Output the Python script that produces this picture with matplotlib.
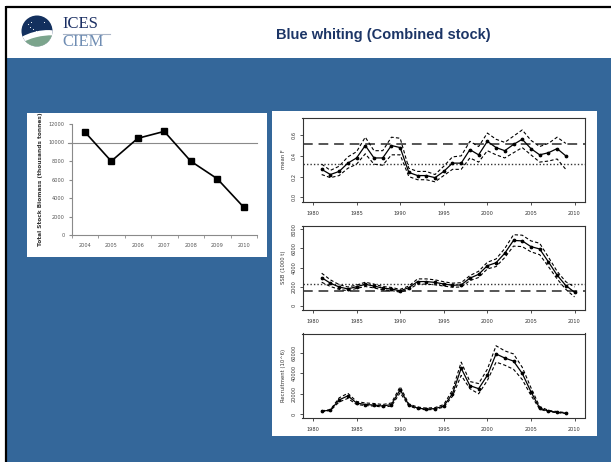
import numpy as np
import matplotlib.pyplot as plt
from matplotlib import patches

W, H = 611, 462

# total stock biomass (thousand tonnes) by assessment year
tsb_years = ['2004', '2005', '2006', '2007', '2008', '2009', '2010']
tsb = [11150, 7980, 10450, 11200, 7980, 6080, 3000]
tsb_ref = 10000
tsb_ticks = [0, 2000, 4000, 6000, 8000, 10000, 12000]

# stock assessment summary, 1981 onwards
f_years = np.arange(1981, 2010)
f_mid = [0.27, 0.22, 0.25, 0.33, 0.38, 0.50, 0.38, 0.38, 0.50, 0.48,
         0.24, 0.21, 0.21, 0.19, 0.25, 0.33, 0.33, 0.46, 0.41, 0.54,
         0.48, 0.45, 0.51, 0.56, 0.47, 0.41, 0.43, 0.47, 0.40]
f_hi = [0.32, 0.26, 0.30, 0.39, 0.44, 0.58, 0.45, 0.45, 0.58, 0.57,
        0.28, 0.25, 0.25, 0.22, 0.30, 0.39, 0.40, 0.54, 0.49, 0.62,
        0.56, 0.53, 0.59, 0.65, 0.55, 0.49, 0.52, 0.58, 0.52]
f_lo = [0.22, 0.19, 0.21, 0.28, 0.32, 0.42, 0.32, 0.31, 0.41, 0.41,
        0.20, 0.17, 0.17, 0.15, 0.21, 0.27, 0.27, 0.38, 0.34, 0.45,
        0.41, 0.38, 0.43, 0.48, 0.41, 0.34, 0.35, 0.37, 0.27]
f_pa, f_lim = 0.32, 0.51

ssb_years = np.arange(1981, 2011)
ssb_mid = [2930, 2350, 1950, 1750, 1980, 2230, 2050, 1830, 1740, 1550,
           1880, 2520, 2520, 2430, 2270, 2130, 2170, 2880, 3280, 4190,
           4500, 5500, 6850, 6800, 6200, 5950, 4600, 3200, 2100, 1400]
ssb_hi = [3400, 2700, 2200, 1950, 2150, 2450, 2250, 2000, 1900, 1700,
          2050, 2800, 2800, 2700, 2500, 2350, 2400, 3150, 3600, 4550,
          4900, 6000, 7450, 7400, 6800, 6550, 5100, 3600, 2500, 1950]
ssb_lo = [2450, 2000, 1700, 1550, 1800, 2000, 1850, 1650, 1580, 1400,
          1700, 2250, 2250, 2180, 2050, 1920, 1950, 2620, 2950, 3850,
          4100, 5050, 6250, 6200, 5650, 5350, 4100, 2800, 1700, 900]
b_pa, b_lim = 2250, 1500

rec_years = np.arange(1981, 2010)
rec_mid = [3000, 4000, 14000, 18000, 11000, 9500, 9000, 8000, 9500, 24000,
           9000, 6000, 5000, 5500, 8000, 20000, 45000, 28000, 25000, 38000,
           59000, 55000, 52000, 40000, 22000, 6000, 3000, 2000, 1000]
rec_hi = [3300, 4500, 16000, 20500, 12500, 11000, 10500, 9500, 11000, 27000,
          10000, 7000, 6000, 6500, 9500, 23500, 51000, 32000, 30000, 44000,
          67000, 62000, 59000, 46000, 26000, 7500, 3800, 2600, 1500]
rec_lo = [2700, 3500, 12000, 15500, 9500, 8500, 8000, 7000, 8000, 21000,
          8000, 5200, 4300, 4700, 7000, 17500, 38000, 25000, 20000, 33000,
          51000, 48000, 44000, 34000, 18500, 5000, 2400, 1600, 700]

NAVY = '#1c3566'
SLIDE_BLUE = '#34679a'

fig = plt.figure(figsize=(W / 100, H / 100), dpi=100, facecolor='white')


def px_axes(x0, y0, x1, y1):
    # axes placed by pixel box (top-left origin)
    return fig.add_axes([x0 / W, 1 - y1 / H, (x1 - x0) / W, (y1 - y0) / H])


# slide background, border and header
bg = fig.add_axes([0, 0, 1, 1])
bg.set_xlim(0, W)
bg.set_ylim(H, 0)
bg.axis('off')
bg.add_patch(patches.Rectangle((6, 57.5), W, H, color=SLIDE_BLUE, lw=0))
bg.plot([6, W], [6.5, 6.5], color='black', lw=1.6, solid_capstyle='butt')
bg.plot([6, 6], [6, H], color='black', lw=1.6, solid_capstyle='butt')

# ICES logo
circ = patches.Circle((37, 31), 15.5, color='#13305e', lw=0)
bg.add_patch(circ)
swoosh = patches.Ellipse((37, 40), 46, 17, angle=-14, color='white', lw=0)
swoosh.set_clip_path(circ)
bg.add_patch(swoosh)
wave = patches.Ellipse((38, 44.5), 46, 15, angle=-14, color='#7ba48c', lw=0)
wave.set_clip_path(circ)
bg.add_patch(wave)
for sx, sy in [(28, 24), (30, 27), (33, 29), (36, 31), (38, 33), (44, 22), (31, 22)]:
    bg.plot(sx, sy, 'o', color='white', ms=0.8, mec='none')
bg.text(62.5, 24, 'ICES', family='Liberation Serif', fontsize=12,
        color='#1b2f63', va='center', ha='left')
bg.plot([62.5, 110], [33.5, 33.5], color='#aab6c8', lw=0.8)
bg.text(62.5, 41.5, 'CIEM', family='Liberation Serif', fontsize=12,
        color='#6f8db3', va='center', ha='left')

bg.text(383, 35, 'Blue whiting (Combined stock)', family='Liberation Sans',
        fontweight='bold', fontsize=10.5, color=NAVY, ha='center', va='center')

# white panels holding the charts
bg.add_patch(patches.Rectangle((27, 113), 240, 144, color='white', lw=0))
bg.add_patch(patches.Rectangle((272, 110.5), 325, 325, color='white', lw=0))

# total stock biomass chart
ax = px_axes(71.5, 124, 257, 235)
xs = np.arange(len(tsb_years))
ax.axhline(tsb_ref, color='#8a8a8a', lw=0.8, xmin=-0.02, clip_on=False)
ax.plot(xs, tsb, color='black', lw=1.2, marker='s', ms=4.2)
ax.set_xlim(-0.5, len(tsb_years) - 0.5)
ax.set_ylim(0, 12000)
ax.set_yticks(tsb_ticks)
ax.set_yticklabels([str(t) for t in tsb_ticks])
ax.set_xticks(xs)
ax.set_xticklabels(tsb_years)
ax.set_xticks(np.arange(-0.5, len(tsb_years)), minor=True)
ax.tick_params(axis='both', which='major', labelsize=3.6, colors='#555555',
               length=0, pad=6)
ax.tick_params(axis='x', which='minor', length=2, color='#8a8a8a')
ax.tick_params(axis='y', which='major', length=2, color='#8a8a8a', pad=3)
for side in ['top', 'right']:
    ax.spines[side].set_visible(False)
for side in ['left', 'bottom']:
    ax.spines[side].set_color('#8a8a8a')
    ax.spines[side].set_linewidth(0.8)
ax.set_ylabel('Total Stock Biomass (thousands tonnes)', fontsize=4.2,
              fontweight='bold', color='#333333', labelpad=4)
ax.patch.set_alpha(0)


def summary_panel(box, yrs, mid, lo, hi, ylim, yticks, ylabel, refs):
    a = px_axes(*box)
    for val, ls, lw, col in refs:
        a.axhline(val, ls=ls, lw=lw, color=col)
    a.plot(yrs, hi, ls=(0, (3, 2)), color='black', lw=0.8)
    a.plot(yrs, lo, ls=(0, (3, 2)), color='black', lw=0.8)
    a.plot(yrs, mid, color='black', lw=0.9, marker='o', ms=1.7)
    a.set_xlim(1978.8, 2011.2)
    a.set_ylim(*ylim)
    a.set_xticks(np.arange(1980, 2011, 5))
    a.set_yticks(yticks)
    a.set_yticklabels([str(t) for t in yticks], rotation=90, va='center')
    a.tick_params(labelsize=3.6, colors='#333333', length=2.5, width=0.6,
                  pad=2)
    a.tick_params(axis='x', pad=4)
    for s in a.spines.values():
        s.set_linewidth(0.8)
        s.set_color('#333333')
    a.set_ylabel(ylabel, fontsize=3.8, color='#333333', labelpad=4)
    return a


summary_panel((302.5, 117.5, 585, 201.5), f_years, f_mid, f_lo, f_hi,
              (-0.04, 0.77), [0.0, 0.2, 0.4, 0.6], 'mean F',
              [(f_lim, (0, (5, 3)), 1.4, '#555555'),
               (f_pa, (0, (1, 1.5)), 1.0, '#333333')])
summary_panel((302.5, 225.5, 585, 309.5), ssb_years, ssb_mid, ssb_lo, ssb_hi,
              (-420, 8420), [0, 2000, 4000, 6000, 8000], 'SSB (1000 t)',
              [(b_lim, (0, (5, 3)), 1.4, '#555555'),
               (b_pa, (0, (1, 1.5)), 1.0, '#333333')])
summary_panel((302.5, 333.5, 585, 417.5), rec_years, rec_mid, rec_lo, rec_hi,
              (-3200, 79000), [0, 20000, 40000, 60000], 'Recruitment (10^6)',
              [])

fig.savefig('out.png', dpi=100, facecolor='white')
